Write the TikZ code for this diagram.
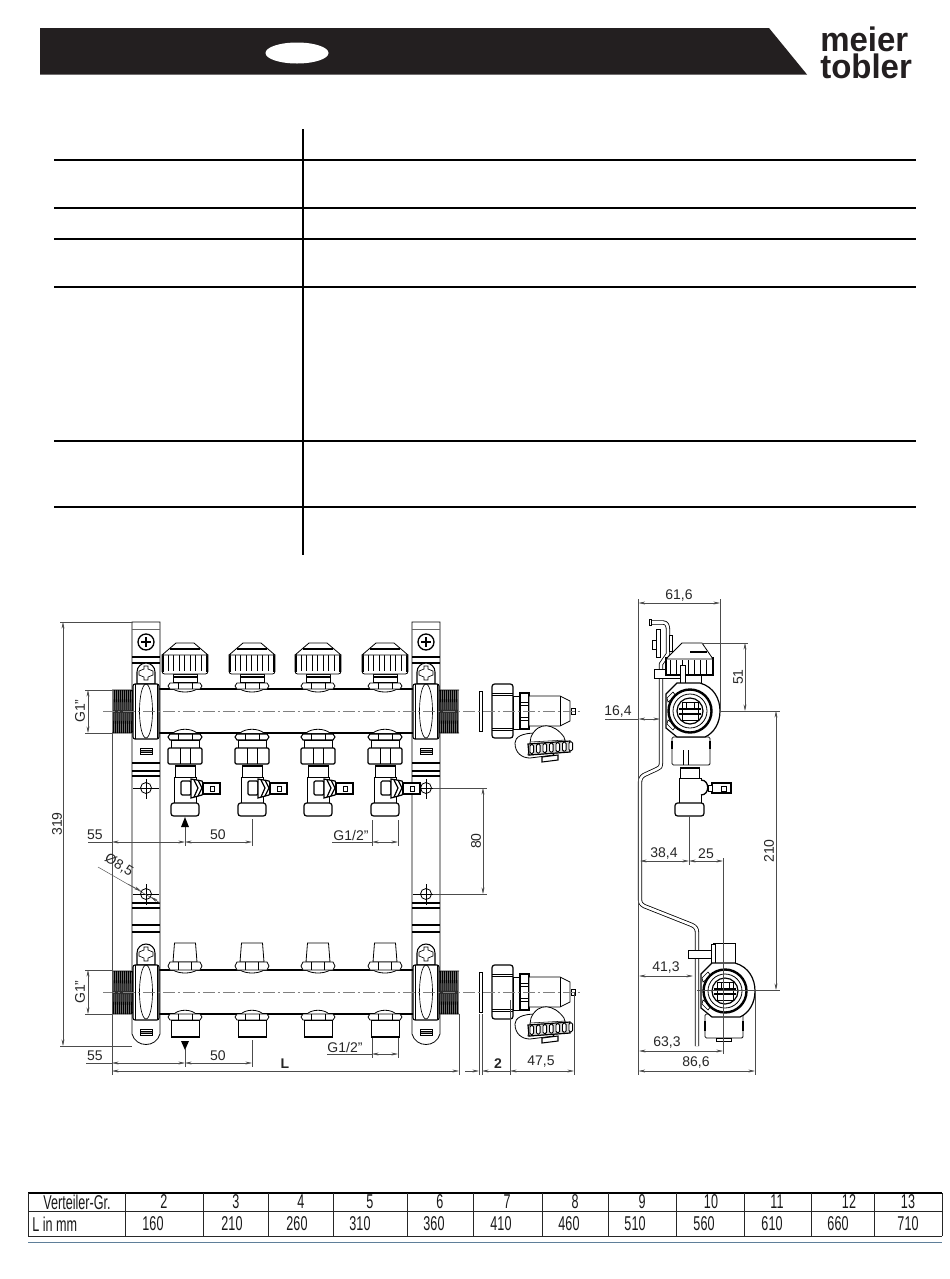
\documentclass[tikz,border=0pt]{standalone}
\usepackage{fontspec}
\setmainfont{Liberation Sans}
\newfontfamily\narrowfont[FakeStretch=0.63]{Liberation Sans}
\newfontfamily\logofont[FakeStretch=0.97]{Liberation Sans}
\usetikzlibrary{arrows.meta}

\definecolor{barblack}{HTML}{231F20}
\definecolor{ruleblue}{HTML}{5F7F99}

\tikzset{
  part/.style={draw,line width=.6pt,fill=white},
  heavy/.style={draw,line width=1.3pt},
  fine/.style={draw,line width=.4pt},
  axisline/.style={line width=.3pt,gray,dash pattern=on 9pt off 2pt on 2pt off 2pt},
  dimline/.style={line width=.35pt,black!70},
  dimboth/.style={dimline,{Stealth[length=5pt,width=2.2pt]}-{Stealth[length=5pt,width=2.2pt]}},
  dimtext/.style={font=\fontsize{10.5}{11}\selectfont,text=black!85,inner sep=0pt},
  tablerule/.style={line width=.6pt,black!85},
  tabletext/.style={font=\narrowfont\fontsize{15}{16}\selectfont,text=black!90,inner sep=0pt},
  % rail with its round end, origin at the top middle
  railpart/.pic={
    \draw[part] (-14,0) -- (14,0) -- (14,412) .. controls (10,426) and (-10,426) .. (-14,412) -- cycle;
    \draw[heavy,line width=.7pt,black!60] (-14,7) -- (14,7);
    \draw[heavy,line width=.8pt] (-14,35) -- (14,35) (-14,41) -- (14,41);
    \draw[heavy,line width=.8pt] (-14,141) -- (14,141) (-14,149) -- (14,149) (-14,154) -- (14,154);
    \draw[heavy,line width=.8pt] (-14,281) -- (14,281) (-14,286) -- (14,286) (-14,303) -- (14,303) (-14,310) -- (14,310);
    \draw[line width=1pt] (0,20) circle (8);
    \draw[line width=1.2pt] (-5,20) -- (5,20) (0,15) -- (0,25);
    \draw[line width=.6pt] (0,166) circle (5.5);
    \draw[fine] (-13,166) -- (13,166) (0,157) -- (0,177);
    \draw[line width=.6pt] (0,272) circle (5.5);
    \draw[fine] (-13,272) -- (13,272) (0,262) -- (0,283);
  },
  % screw, flange and slot on a rail, origin on the pipe axis
  flangepart/.pic={
    \draw[part,line width=.8pt] (-9,-27) -- (-9,-39) arc (180:360:9 and 9) -- (9,-27) -- cycle;
    \draw[line width=.5pt,fill=white] (-2,-42) -- (-2,-45) -- (2,-45) -- (2,-42) -- (7,-40) -- (7,-36) -- (2,-34) -- (2,-31) -- (-2,-31) -- (-2,-34) -- (-7,-36) -- (-7,-40) -- cycle;
    \draw[part,line width=.8pt,rounded corners=1.5pt] (-13,-27) rectangle (13,28);
    \draw[line width=.5pt] (0,0) ellipse (6.5 and 27);
    \draw[fine] (-11,-27) -- (-11,28) (11,-27) -- (11,28);
    \draw[part] (-6,37) rectangle (6,43);
    \draw[fine,fill=black!45] (-6,39) rectangle (6,41);
  },
  threadpart/.pic={
    \fill[black!50] (0,-21) rectangle (21,22);
    \foreach \t in {1.5,3.5,...,19.5} {\draw[line width=.8pt] (\t+1,-21) -- (\t,22);}
    \draw[line width=.7pt] (0,-21) -- (19,-21) -- (21,-19) -- (21,20) -- (19,22) -- (0,22);
  },
  % knob on the upper pipe, origin on the pipe edge
  knobpart/.pic={
    \draw[part] (-12,0) .. controls (-6,4) and (6,4) .. (12,0);
    \draw[part] (-15,-6) -- (15,-6) -- (17,-3) -- (15,0) -- (-15,0) -- (-17,-3) -- cycle;
    \draw[fine] (-7,-6) -- (-7,0) (7,-6) -- (7,0);
    \draw[part] (-12,-15) rectangle (12,-7);
    \draw[heavy] (-12,-12) -- (12,-12);
    \draw[part,rounded corners=2pt] (-23,-35) rectangle (23,-15);
    \foreach \r in {-17,-11.5,...,18} {\draw[line width=.6pt] (\r,-34) -- (\r,-18);}
    \draw[heavy,line width=1.8pt] (-22,-34) -- (-22,-17) (22,-34) -- (22,-17);
    \draw[part] (-23,-34) -- (-9,-46) -- (9,-46) -- (23,-34) -- cycle;
    \draw[heavy,line width=1.2pt] (-15,-40) -- (15,-40);
  },
  % nut, tee and drain cock under the upper pipe
  valvepart/.pic={
    \draw[part] (-12,0) .. controls (-6,-5) and (6,-5) .. (12,0);
    \draw[part,line width=.8pt] (-15,1) -- (15,1) -- (17,4) -- (15,7) -- (-15,7) -- (-17,4) -- cycle;
    \draw[fine] (-7,1) -- (-7,7) (7,1) -- (7,7);
    \draw[part] (-14,7) rectangle (14,15);
    \draw[part,line width=.9pt,rounded corners=1pt] (-17,15) rectangle (17,31);
    \draw[fine] (-5,15) -- (-5,31) (5,15) -- (5,31);
    \draw[part] (-10,32) rectangle (10,44);
    \draw[line width=2pt] (-10,33) -- (10,33);
    \draw[part] (-11,44) -- (11,44) -- (11,70) -- (-11,70) -- cycle;
    \draw[part,line width=.9pt,rounded corners=2pt] (-14,70) rectangle (14,83);
    \draw[part,line width=.9pt,rounded corners=1pt] (-4,48) rectangle (6,62);
    \draw[part,line width=.9pt] (6,46) -- (17,48) -- (20,55) -- (17,62) -- (6,65) -- cycle;
    \draw[line width=.9pt] (9,47) -- (13,55) -- (9,64) (13,47) -- (17,55) -- (13,63);
    \draw[part,line width=.9pt] (18,50) rectangle (35,61);
    \draw[line width=.7pt,fill=white] (25,53) rectangle (29,58);
  },
  % plugs of the lower pipe
  plugtop/.pic={
    \draw[part] (-12,0) .. controls (-6,4) and (6,4) .. (12,0);
    \draw[part] (-10.5,-27) -- (10.5,-27) -- (12,-8) -- (-12,-8) -- cycle;
    \draw[part] (-15,-8) -- (15,-8) -- (17,-4) -- (15,0) -- (-15,0) -- (-17,-4) -- cycle;
    \draw[fine] (-7,-8) -- (-7,0) (6,-8) -- (6,0);
  },
  plugbottom/.pic={
    \draw[part] (-11,0) .. controls (-6,-5) and (6,-5) .. (11,0);
    \draw[part] (-15,0) -- (15,0) -- (17,3) -- (15,6) -- (-15,6) -- (-17,3) -- cycle;
    \draw[fine] (-7,0) -- (-7,6) (7,0) -- (7,6);
    \draw[part,line width=.7pt] (-14,6) rectangle (14,23);
    \draw[heavy] (-13.5,23) -- (13.5,23);
  },
  % washer, union and ball valve beside a rail, origin on the axis at the union
  unionpart/.pic={
    \draw[part,line width=.5pt] (-13,-20) rectangle (-10,20);
    \draw[part,line width=.9pt,rounded corners=2pt] (0,-27) rectangle (21,27);
    \draw[fine] (0,-18) -- (21,-18) (0,-16) -- (21,-16) (0,17) -- (21,17) (0,19) -- (21,19);
    \draw[part] (21,-15) rectangle (28,18);
    \draw[part,line width=.9pt] (28,-18) rectangle (37,18);
    \draw[fine] (28,-9) -- (37,-9) (28,-6) -- (37,-6) (28,6) -- (37,6) (28,9) -- (37,9);
    \draw[part] (37,-15) -- (68,-15) -- (78,-10) -- (78,10) -- (68,15) -- (37,15) -- cycle;
    \draw[fine] (68,-15) -- (68,15);
    \draw[part] (79,-3) rectangle (83,3);
    \draw[part] (44,22) .. controls (30,22) and (23,26) .. (23,32) .. controls (23,42) and (30,47) .. (38,47) -- (62,44) -- cycle;
    \draw[part] (39,26) .. controls (46,10) and (62,12) .. (72,26) -- (76,41) -- (36,44) -- cycle;
    \draw[fine] (38,31) -- (74,29);
    \draw[line width=.8pt,fill=white] (50,46) -- (66,44) -- (66,49) -- (50,51) -- cycle;
    \draw[part,line width=.9pt,fill=black!15] (36,33) -- (78,30) -- (78,41) -- (37,44) -- cycle;
    \foreach \r in {0,6.5,...,39} {\draw[part,line width=.7pt,fill=white,rounded corners=1pt] ({38+\r},{33.5-.07*\r}) rectangle ++(3.6,9);}
  },
  % round body of the side view, origin at the pipe centre
  bodypart/.pic={
    \draw[part,line width=.9pt] (-23,-17) -- (-12,-28) -- (11,-28) .. controls (25,-24) and (31,-12) .. (31,0) .. controls (31,12) and (25,22) .. (16,26) -- (-12,26) -- (-23,17) -- cycle;
    \draw[line width=.5pt,fill=white] (-22,-13) -- (-16,-19) -- (-13,-15) -- (-21,-9) -- cycle;
    \draw[line width=.5pt,fill=white] (-22,13) -- (-16,19) -- (-13,15) -- (-21,9) -- cycle;
    \draw[line width=1.8pt,fill=white] (1,0) circle (21.5);
    \draw[line width=.6pt] (1,0) circle (17);
    \draw[line width=.9pt] (1,0) circle (13);
    \draw[line width=.7pt] (-7,-9) -- (9,-9) -- (9,9) -- (-7,9) -- cycle;
    \draw[line width=1.3pt] (-10,-2) -- (12,-2) (-10,3) -- (12,3);
    \draw[fine] (-3,-9) -- (-3,-2) (5,-9) -- (5,-2);
  }
}

\begin{document}
\begin{tikzpicture}[x=.75pt,y=-.75pt,>=Stealth]
  \useasboundingbox (0,0) rectangle (950,1279);

  % title bar and logo
  \fill[barblack] (40,28) -- (769,28) -- (807,74.5) -- (40,74.5) -- cycle;
  \fill[white] (297,53) ellipse (31.5 and 10.5);
  \node (logotop) at (820,51) [anchor=base west,inner sep=0pt,text=barblack,font=\logofont\bfseries\fontsize{25.5}{27}\selectfont] {meier};
  \node (logobottom) at (820,78) [anchor=base west,inner sep=0pt,text=barblack,font=\logofont\bfseries\fontsize{25.5}{27}\selectfont] {tobler};

  % rules of the empty upper table
  \draw[line width=1.5pt] (303,129) -- (303,555);
  \foreach \y in {160,208,239,287,441,507}
    \draw[line width=1.5pt] (54,\y) -- (916,\y);

  % front view: rails and pipes
  \pic at (146,622) {railpart};
  \pic at (426,622) {railpart};
  \foreach \y in {711,992}
  {
    \draw[line width=.8pt] (158,\y-22) -- (413,\y-22) (158,\y+22) -- (413,\y+22);
    \pic at (112,\y) {threadpart};
    \pic at (459,\y) [xscale=-1] {threadpart};
    \pic at (146,\y) {flangepart};
    \pic at (426,\y) {flangepart};
    \pic at (492,\y) {unionpart};
    \draw[axisline] (103,\y) -- (580,\y);
  }
  \foreach \x in {185,252,318,385}
  {
    \pic at (\x,689) {knobpart};
    \pic at (\x,733) {valvepart};
    \pic at (\x,970) {plugtop};
    \pic at (\x,1014) {plugbottom};
  }

  % front view: dimensions
  \draw[dimline] (60,622) -- (132,622) (60,1046) -- (132,1046);
  \draw[dimboth] (63,622) -- (63,1046);
  \node (len319) at (57,824) [dimtext,rotate=90] {319};
  \draw[dimline] (85,690) -- (112,690) (85,733) -- (112,733) (85,970) -- (112,970) (85,1014) -- (112,1014);
  \draw[dimboth] (88,690) -- (88,733);
  \draw[dimboth] (88,970) -- (88,1014);
  \node (gtop) at (80,711) [dimtext,rotate=90] {G1"};
  \node (gbottom) at (80,992) [dimtext,rotate=90] {G1"};
  \draw[dimline] (112,733) -- (112,1075);
  \draw[dimline] (88,842) -- (112,842) (185,827) -- (185,846) (252,819) -- (252,846);
  \draw[dimboth] (112,842) -- (185,842);
  \draw[dimboth] (185,842) -- (252,842);
  \fill (185,817) -- (189,827) -- (181,827) -- cycle;
  \node (in55) at (95,835) [dimtext] {55};
  \node (in50) at (218,835) [dimtext] {50};
  \draw[dimline] (332,842) -- (372,842) (372,820) -- (372,846) (398,820) -- (398,846);
  \draw[dimboth] (372,842) -- (398,842);
  \node (gin) at (351,835) [dimtext] {G1/2"};
  \draw[dimline] (433,788) -- (487,788) (433,894) -- (487,894);
  \draw[dimboth] (483,788) -- (483,894);
  \node (len80) at (476,841) [dimtext,rotate=90] {80};
  \draw[dimline] (98,867) -- (157,901);
  \draw[dimline,-{Stealth[length=5pt,width=2.2pt]}] (128,884) -- (141,891);
  \draw[dimline,-{Stealth[length=5pt,width=2.2pt]}] (160,903) -- (151,897);
  \node (bore) at (119,865) [dimtext,rotate=-32] {Ø8,5};
  \draw[dimline] (86,1063) -- (112,1063) (185,1049) -- (185,1067) (252,1040) -- (252,1067);
  \draw[dimboth] (112,1063) -- (185,1063);
  \draw[dimboth] (185,1063) -- (252,1063);
  \fill (185,1050) -- (189,1041) -- (181,1041) -- cycle;
  \node (out55) at (95,1056) [dimtext] {55};
  \node (out50) at (218,1056) [dimtext] {50};
  \draw[dimline] (327,1054) -- (372,1054) (372,1038) -- (372,1058) (398,1038) -- (398,1058);
  \draw[dimboth] (372,1054) -- (398,1054);
  \node (gout) at (345,1047) [dimtext] {G1/2"};
  \draw[dimline] (459,1014) -- (459,1075) (479,1014) -- (479,1075) (482,1014) -- (482,1075);
  \draw[dimline] (510,1000) -- (510,1075) (574,992) -- (574,1075);
  \draw[dimboth] (112,1071) -- (459,1071);
  \node (lenL) at (285,1064) [dimtext,font=\bfseries\fontsize{10.5}{11}\selectfont] {L};
  \draw[dimline,-{Stealth[length=5pt,width=2.2pt]}] (465,1071) -- (479,1071);
  \draw[dimline,-{Stealth[length=5pt,width=2.2pt]}] (510,1071) -- (482,1071);
  \node (gap2) at (498,1064) [dimtext,font=\bfseries\fontsize{10.5}{11}\selectfont] {2};
  \draw[dimboth] (510,1071) -- (574,1071);
  \node (len475) at (541,1062) [dimtext] {47,5};

  % side view: plate
  \draw[line width=.6pt,double,double distance=2pt,line join=round]
    (649,622.5) -- (663,622.5) .. controls (667,622.5) and (668,626) .. (668,630) -- (668,654) -- (661,664) -- (661,762)
    .. controls (661,767) and (660,768) .. (657,769) -- (644,775) .. controls (641,777) and (640,779) .. (640,783)
    -- (640,899) .. controls (640,903) and (641,904) .. (644,906) -- (692,925) .. controls (696,927) and (697,929) .. (697,933) -- (697,1046);
  \draw[part] (649,619.5) rectangle (651,625.5);
  \draw[part] (656,629) rectangle (660,657);
  \draw[part] (652,640) rectangle (656,649);
  \draw[part] (669,635) rectangle (672,651);

  % side view: upper parts
  \draw[part] (654,669) rectangle (682,678);
  \draw[part] (681,675) rectangle (701,684);
  \draw[part,line width=.8pt] (666,658) rectangle (713,675);
  \foreach \r in {670,676,...,712} {\draw[line width=.7pt] (\r,660) -- (\r,675);}
  \draw[part] (666,659) -- (682,643) -- (702,643) -- (713,659) -- cycle;
  \draw[line width=1pt] (690,652) -- (707,652);
  \draw[part] (680,665) rectangle (685,683);
  \draw[part,rounded corners=1pt] (672,737) rectangle (710,765);
  \draw[line width=1.6pt] (672,741) -- (672,749) (710,741) -- (710,749);
  \draw[fine] (683,750) -- (683,765) (688,750) -- (688,765);
  \pic at (689,711) {bodypart};
  \draw[part] (680,767) rectangle (699,778);
  \draw[line width=2pt] (680,768) -- (699,768);
  \draw[part] (679,778) rectangle (701,803);
  \draw[part,line width=.9pt,rounded corners=2pt] (675,803) rectangle (704,816);
  \draw[part,line width=1pt] (701,780) .. controls (710,780) and (710,795) .. (701,795);
  \draw[part,line width=.9pt] (712,783) rectangle (731,793);
  \draw[line width=.7pt,fill=white] (721,786) rectangle (726,791);
  \draw[part] (708,785) rectangle (712,791);

  % side view: lower parts
  \draw[part] (688,950) rectangle (714,958);
  \draw[part] (713,943) rectangle (735,966);
  \draw[part] (711,944) rectangle (715,966);
  \draw[part,rounded corners=1pt] (705,1014) rectangle (743,1038);
  \draw[line width=1.6pt] (705,1021) -- (705,1031) (743,1021) -- (743,1031);
  \draw[part] (716,1038) rectangle (731,1041);
  \pic at (724,991) {bodypart};

  % side view: dimensions
  \draw[dimline] (638.5,599) -- (638.5,1075) (720,599) -- (720,711);
  \draw[dimboth] (638.5,603) -- (720,603);
  \node (len616) at (679,595) [dimtext] {61,6};
  \draw[dimline] (702,643) -- (748,643) (720,711) -- (780,711);
  \draw[dimboth] (745,643) -- (745,711);
  \node (len51) at (738,677) [dimtext,rotate=90] {51};
  \draw[dimline] (605,719) -- (638.5,719);
  \draw[dimboth] (638.5,719) -- (660,719);
  \node (len164) at (618,711) [dimtext] {16,4};
  \draw[dimline] (697,990) -- (780,990);
  \draw[dimboth] (776,711) -- (776,990);
  \node (len210) at (769,851) [dimtext,rotate=90] {210};
  \draw[dimline] (689,816) -- (689,865) (723,858) -- (723,1054);
  \draw[dimboth] (640,861) -- (689,861);
  \draw[dimboth] (689,861) -- (723,861);
  \node (len384) at (664,853) [dimtext] {38,4};
  \node (len25) at (706,854) [dimtext] {25};
  \draw[dimboth] (639,976) -- (693,976);
  \node (len413) at (666,967) [dimtext] {41,3};
  \draw[dimboth] (639,1051) -- (723,1051);
  \node (len633) at (667,1042) [dimtext] {63,3};
  \draw[dimline] (755,990) -- (755,1075);
  \draw[dimboth] (638.5,1071) -- (755,1071);
  \node (len866) at (696,1062) [dimtext] {86,6};

  % size table
  \draw[line width=1.2pt] (28,1193) -- (942,1193);
  \draw[tablerule] (28,1211) -- (942,1211) (28,1236) -- (942,1236);
  \foreach \x in {28,125,203,268,333,407,473,542,608,676,744,811,874,942}
    \draw[tablerule] (\x,1193) -- (\x,1236);
  \node (sizehead) at (77,1202) [tabletext] {Verteiler-Gr.};
  \node (lenhead) at (32,1224) [tabletext,anchor=west] {L in mm};
  \foreach \n/\s/\sx/\l/\lx in {a/2/164/160/153,b/3/236/210/232,c/4/301/260/297,d/5/370/310/360,e/6/440/360/434,f/7/507/410/501,g/8/575/460/569,h/9/642/510/635,i/10/711/560/704,j/11/777/610/772,k/12/849/660/838,m/13/908/710/908}
  {
    \node (size\n) at (\sx,1202) [tabletext] {\s};
    \node (len\n) at (\lx,1224) [tabletext] {\l};
  }
  \draw[ruleblue,line width=.6pt] (28,1242) -- (942,1242);
\end{tikzpicture}
\end{document}
